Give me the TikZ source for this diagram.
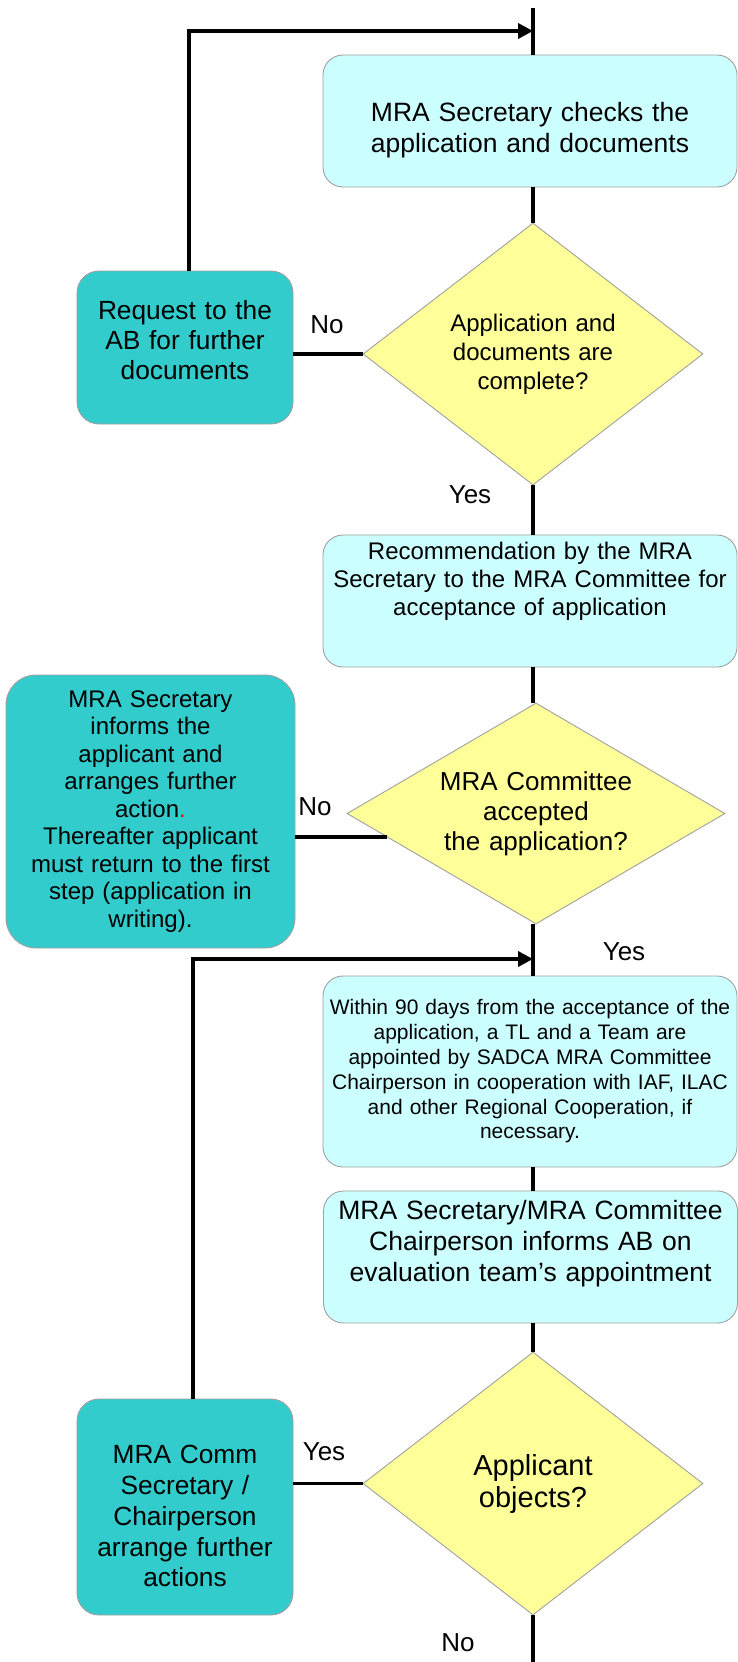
\documentclass[tikz,border=0pt]{standalone}
\usepackage{fontspec}
\setmainfont{Liberation Sans}
\usetikzlibrary{arrows.meta, positioning, shapes.geometric}
\definecolor{procfill}{HTML}{CCFFFF}
\definecolor{sidefill}{HTML}{33CCCC}
\definecolor{askfill}{HTML}{FFFF99}
\definecolor{edgegray}{HTML}{A0A0A0}
\definecolor{dotred}{HTML}{FF0000}

\tikzset{
  procbox/.style={draw=edgegray, line width=0.9pt, fill=procfill, rounded corners=20pt,
    minimum width=414pt, text width=410pt, inner sep=2pt, align=center},
  sidebox/.style={draw=edgegray, line width=0.9pt, fill=sidefill, rounded corners=22pt,
    inner sep=5pt, align=center},
  decision/.style={diamond, draw=edgegray, line width=0.9pt, fill=askfill,
    inner sep=0pt, align=center},
  conn/.style={line width=3.6pt},
  tip/.style={-{Triangle[length=15pt, width=15pt]}},
  ans/.style={font=\fontsize{26}{30}\selectfont, inner sep=0pt},
}

\begin{document}
\begin{tikzpicture}[x=1pt, y=-1pt]
    \useasboundingbox (0,0) rectangle (738,1662);

    % spine ends and turning points of the return lines
    \coordinate (top) at (533,8);
    \coordinate (bot) at (533,1662);
    \coordinate (m1) at (533,31);
    \coordinate (j1) at (189,31);
    \coordinate (m2) at (533,959);
    \coordinate (j2) at (193,959);

    % checking the application
    \node[procbox, minimum height=132pt, font=\fontsize{26.5}{31}\selectfont] (chk) at (530,121)
        {\rule{0pt}{37pt}MRA Secretary checks the\\application and documents};
    \node[decision, minimum width=340pt, minimum height=262pt, aspect=1.3, text width=170pt,
        font=\fontsize{24}{29}\selectfont] (cmpl) at (533,354)
        {Application and\\documents are\\complete?};
    \node[sidebox, minimum width=216pt, minimum height=153pt, text width=206pt,
        font=\fontsize{26.3}{30}\selectfont] (req) at (185,347.5)
        {Request to the\\AB for further\\documents\rule[-15pt]{0pt}{0pt}};

    % recommendation and committee decision
    \node[procbox, minimum height=132pt, font=\fontsize{24}{28}\selectfont] (rec) at (530,601)
        {Recommendation by the MRA\\Secretary to the MRA Committee for\\acceptance of application\rule[-45pt]{0pt}{0pt}};
    \node[decision, minimum width=378pt, minimum height=221pt, aspect=1.71, text width=215pt,
        font=\fontsize{26}{30}\selectfont] (acc) at (536,813.5)
        {MRA Committee\\accepted\\the application?};
    \node[sidebox, rounded corners=30pt, minimum width=289pt, minimum height=273pt, text width=279pt,
        font=\fontsize{24}{27.5}\selectfont] (inf) at (150.5,811.5)
        {MRA Secretary\\informs the\\applicant and\\arranges further\\action{\color{dotred}.}\\Thereafter applicant\\must return to the first\\step (application in\\writing).};

    % team appointment
    \node[procbox, minimum height=191pt, font=\fontsize{21}{24.8}\selectfont] (team) at (530,1071.5)
        {Within 90 days from the acceptance of the\\application, a TL and a Team are\\appointed by SADCA MRA Committee\\Chairperson in cooperation with IAF, ILAC\\and other Regional Cooperation, if\\necessary.};
    \node[procbox, minimum height=132pt, font=\fontsize{26.5}{31}\selectfont] (notif) at (530.5,1257)
        {MRA Secretary/MRA Committee\\Chairperson informs AB on\\evaluation team's appointment\rule[-33pt]{0pt}{0pt}};
    \node[decision, minimum width=340pt, minimum height=263pt, aspect=1.3, text width=150pt,
        font=\fontsize{29}{32}\selectfont] (obj) at (533,1483.5)
        {Applicant\\objects?};
    \node[sidebox, minimum width=216pt, minimum height=216pt, text width=206pt,
        font=\fontsize{26.3}{30.7}\selectfont] (arr) at (185,1507)
        {\rule{0pt}{37pt}MRA Comm\\Secretary /\\Chairperson\\arrange further\\actions};

    % main line
    \draw[conn] (top) -- (chk.north -| top);
    \draw[conn] (chk.south -| top) -- (cmpl.north);
    \draw[conn] (cmpl.south) -- (rec.north -| top);
    \draw[conn] (rec.south -| top) -- (acc.north -| top);
    \draw[conn] (acc.south -| top) -- (team.north -| top);
    \draw[conn] (team.south -| top) -- (notif.north -| top);
    \draw[conn] (notif.south -| top) -- (obj.north);
    \draw[conn] (obj.south) -- (bot);

    % side branches
    \draw[conn] (req.east |- cmpl.west) -- (cmpl.west);
    \draw[conn] (inf.east |- acc.189) -- (acc.189);
    \draw[conn] (arr.east |- obj.west) -- (obj.west);
    \draw[conn, tip] (req.north -| j1) -- (j1) -- (m1);
    \draw[conn, tip] (arr.north -| j2) -- (j2) -- (m2);

    % answers
    \node[ans] (no1) at (327,325) {No};
    \node[ans] (yes1) at (470,495) {Yes};
    \node[ans] (no2) at (315,807) {No};
    \node[ans] (yes2) at (624,952) {Yes};
    \node[ans] (yes3) at (324,1452) {Yes};
    \node[ans] (no3) at (458,1643) {No};
\end{tikzpicture}
\end{document}
